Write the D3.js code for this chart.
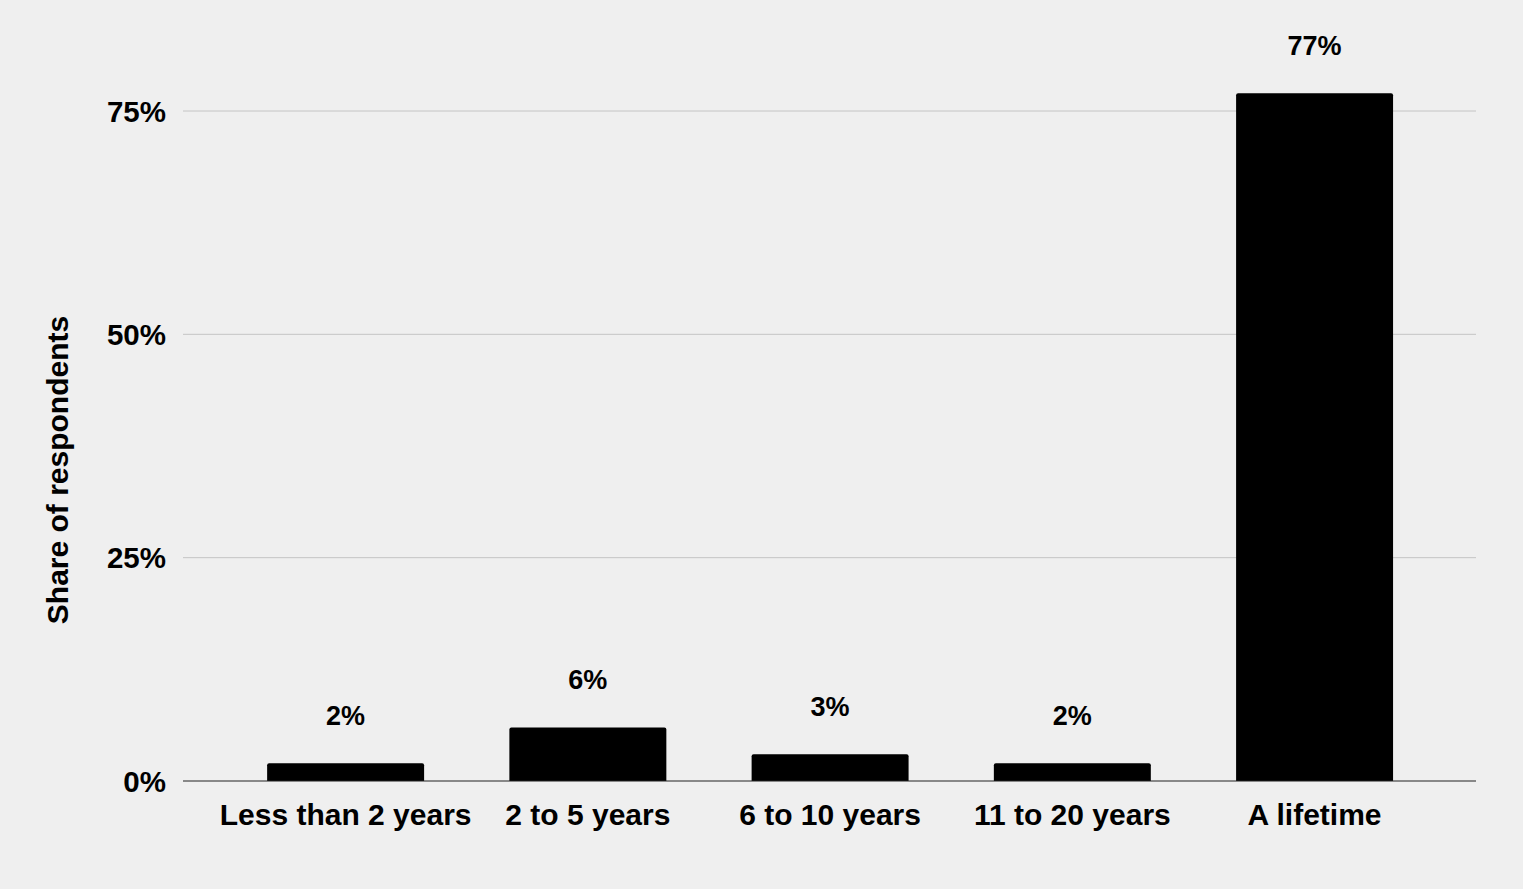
<!DOCTYPE html>
<html>
  <head>
    <title>Share of respondents</title>
    <script src="https://d3js.org/d3.v7.min.js"></script>
    <style>
      body { margin: 0; background: #efefef; }
      svg { display: block; font-family: "Liberation Sans", Arial, sans-serif; font-weight: bold; }
    </style>
  </head>
  <body>
    <div id="chart"></div>
    <script>
      // data
      var categories = ["Less than 2 years", "2 to 5 years", "6 to 10 years", "11 to 20 years", "A lifetime"];
      var values = [2, 6, 3, 2, 77];
      var yTicks = [0, 25, 50, 75];

      var width = 1523;
      var height = 889;

      var svg = d3.select("#chart")
        .append("svg")
        .attr("width", width)
        .attr("height", height);

      svg.append("rect")
        .attr("width", width)
        .attr("height", height)
        .attr("fill", "#efefef");

      var plotLeft = 183, plotRight = 1476;

      var x = d3.scaleBand()
        .domain(categories)
        .range([224.5, 1435.7])
        .paddingInner(0.352)
        .paddingOuter(0.176);

      var y = d3.scaleLinear()
        .domain([0, 75])
        .range([781, 111]);

      // grid lines
      svg.selectAll(".grid")
        .data(yTicks.filter(function(d) { return d > 0; }))
        .enter()
        .append("line")
        .attr("class", "grid")
        .attr("x1", plotLeft)
        .attr("x2", plotRight)
        .attr("y1", function(d) { return y(d); })
        .attr("y2", function(d) { return y(d); })
        .style("stroke", "#c4c4c4")
        .style("stroke-width", 1);

      // tick labels
      svg.selectAll(".ytick")
        .data(yTicks)
        .enter()
        .append("text")
        .attr("class", "ytick")
        .attr("x", 166)
        .attr("y", function(d) { return y(d); })
        .attr("dy", "0.36em")
        .attr("text-anchor", "end")
        .style("font-size", "29.5px")
        .text(function(d) { return d + "%"; });

      // bars with slightly rounded top corners
      var r = 2;
      svg.selectAll(".bar")
        .data(values)
        .enter()
        .append("path")
        .attr("class", "bar")
        .attr("d", function(d, i) {
          var x0 = x(categories[i]), x1 = x0 + x.bandwidth();
          var y0 = y(0), y1 = y(d);
          return "M" + x0 + "," + y0 +
            "V" + (y1 + r) +
            "Q" + x0 + "," + y1 + " " + (x0 + r) + "," + y1 +
            "H" + (x1 - r) +
            "Q" + x1 + "," + y1 + " " + x1 + "," + (y1 + r) +
            "V" + y0 + "Z";
        })
        .style("fill", "#000");

      // baseline
      svg.append("line")
        .attr("x1", plotLeft)
        .attr("x2", plotRight)
        .attr("y1", y(0))
        .attr("y2", y(0))
        .style("stroke", "#222")
        .style("stroke-width", 1.2);

      // value labels
      svg.selectAll(".value")
        .data(values)
        .enter()
        .append("text")
        .attr("class", "value")
        .attr("x", function(d, i) { return x(categories[i]) + x.bandwidth() / 2; })
        .attr("y", function(d) { return y(d) - 38; })
        .attr("text-anchor", "middle")
        .style("font-size", "27px")
        .text(function(d) { return d + "%"; });

      // category labels
      svg.selectAll(".xlabel")
        .data(categories)
        .enter()
        .append("text")
        .attr("class", "xlabel")
        .attr("x", function(d) { return x(d) + x.bandwidth() / 2; })
        .attr("y", 825)
        .attr("text-anchor", "middle")
        .style("font-size", "30px")
        .text(function(d) { return d; });

      // y axis title
      svg.append("text")
        .attr("transform", "translate(68,470) rotate(-90)")
        .attr("text-anchor", "middle")
        .style("font-size", "30px")
        .text("Share of respondents");
    </script>
  </body>
</html>
